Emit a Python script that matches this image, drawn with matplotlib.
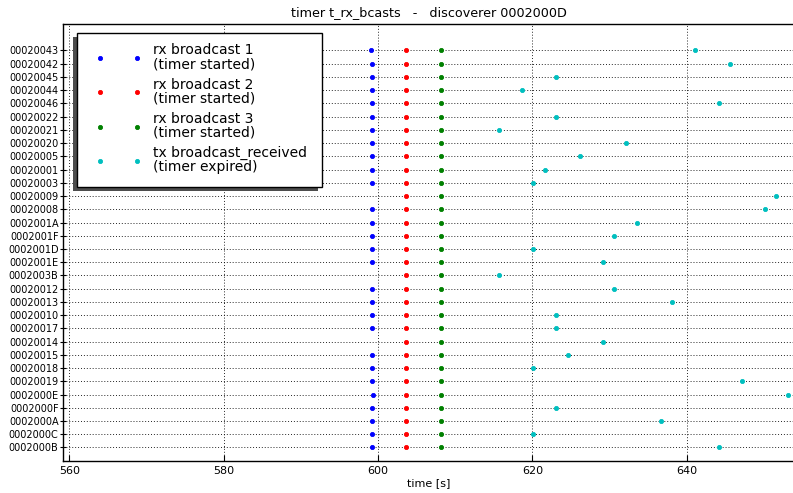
import matplotlib
matplotlib.use("Agg")
import matplotlib.pyplot as plt
from matplotlib.patches import Rectangle

# Node identifiers, top row first
nodes = ["00020043", "00020042", "00020045", "00020044", "00020046",
         "00020022", "00020021", "00020020", "00020005", "00020001",
         "00020003", "00020009", "00020008", "0002001A", "0002001F",
         "0002001D", "0002001E", "0002003B", "00020012", "00020013",
         "00020010", "00020017", "00020014", "00020015", "00020018",
         "00020019", "0002000E", "0002000F", "0002000A", "0002000C",
         "0002000B"]

# Event times in seconds (None = no event recorded for that node)
rx_bcast1 = [599.1, 599.2, 599.2, 599.2, 599.2, 599.2, 599.2, 599.2, 599.2, 599.2,
             599.2, None, 599.2, 599.2, 599.2, 599.2, 599.2, None, 599.2, 599.2,
             599.2, 599.2, None, 599.2, 599.2, 599.2, 599.3, 599.2, 599.2, 599.2,
             599.2]
rx_bcast2 = [603.6] * 31
rx_bcast3 = [608.1] * 31
tx_bcast_received = [641.1, 645.6, 623.1, 618.6, 644.1, 623.1, 615.6, 632.1, 626.1, 621.6,
                     620.1, 651.6, 650.1, 633.6, 630.6, 620.1, 629.1, 615.6, 630.6, 638.1,
                     623.1, 623.1, 629.1, 624.6, 620.1, 647.1, 653.1, 623.1, 636.6, 620.1,
                     644.1]

series = [
    (rx_bcast1, "b", "rx broadcast 1\n(timer started)"),
    (rx_bcast2, "r", "rx broadcast 2\n(timer started)"),
    (rx_bcast3, "g", "rx broadcast 3\n(timer started)"),
    (tx_bcast_received, "c", "tx broadcast_received\n(timer expired)"),
]

n = len(nodes)
rows = list(range(n - 1, -1, -1))

fig = plt.figure(figsize=(7.93, 4.93), dpi=100)
ax = fig.add_axes([0.0791, 0.0655, 0.9229, 0.8858])

for values, color, label in series:
    xs = [v for v in values if v is not None]
    ys = [r for v, r in zip(values, rows) if v is not None]
    ax.plot(xs, ys, linestyle="none", marker=".", markersize=6,
            markeredgewidth=0.6, color=color, label=label)

ax.set_xlim(559.15, 653.95)
ax.set_ylim(-1, 32)
ax.set_xticks([560, 580, 600, 620, 640])
ax.set_yticks(rows)
ax.set_yticklabels(nodes)
ax.tick_params(axis="y", labelsize=7, direction="inout", length=4, pad=1,
               left=True, right=False)
ax.tick_params(axis="x", labelsize=8, direction="in", length=4, pad=4,
               top=False, bottom=True)
ax.grid(True, color="black", linestyle=(0, (1, 2)), linewidth=0.7, alpha=0.85)
ax.set_axisbelow(True)
for s in ax.spines.values():
    s.set_linewidth(1.0)

ax.set_title("timer t_rx_bcasts   -   discoverer 0002000D", fontsize=9.2, pad=6)
ax.set_xlabel("time [s]", fontsize=8, labelpad=1)

leg = ax.legend(loc="upper left", numpoints=2, fontsize=10, frameon=False,
                handlelength=3.26, handletextpad=0.86, labelspacing=0.45,
                borderpad=0.0, borderaxespad=0.0,
                bbox_to_anchor=(0.045, 0.9556))
leg.set_zorder(6)
for t in leg.get_texts():
    t.set_linespacing(1.0)

# Legend box with a drop shadow toward the lower left
fig.canvas.draw()
bb = leg.get_window_extent()
pad_left, pad_right, pad_top, pad_bottom = 18.8, 14.8, 10.0, 13.0
inv = ax.transAxes.inverted()
(x0, y0), (x1, y1) = inv.transform([(bb.x0 - pad_left, bb.y0 - pad_bottom),
                                    (bb.x1 + pad_right, bb.y1 + pad_top)])
(sx, sy), _ = inv.transform([(bb.x0 - pad_left - 4, bb.y0 - pad_bottom - 4),
                             (0, 0)])
ax.add_patch(Rectangle((sx, sy), x1 - x0, y1 - y0, transform=ax.transAxes,
                       facecolor="0.3", edgecolor="none", zorder=5.0,
                       clip_on=False))
ax.add_patch(Rectangle((x0, y0), x1 - x0, y1 - y0, transform=ax.transAxes,
                       facecolor="white", edgecolor="black", linewidth=1.0,
                       zorder=5.1, clip_on=False))

fig.savefig("out.png", dpi=100)
